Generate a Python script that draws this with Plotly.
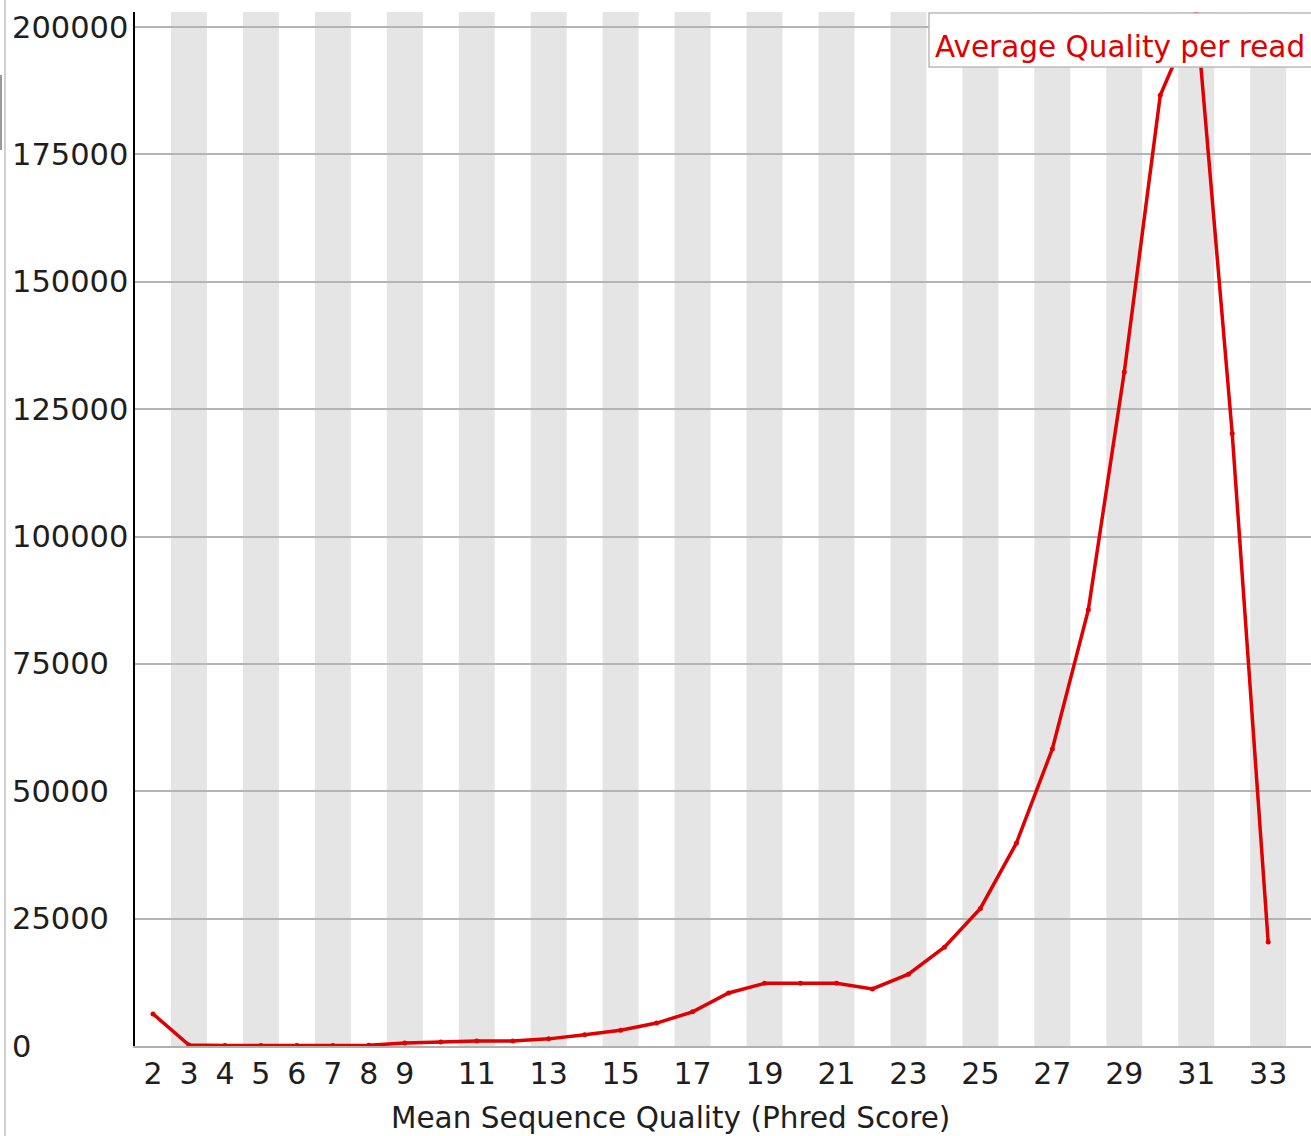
import plotly.graph_objects as go

# Mean per-read quality distribution
quality = list(range(2, 34))
read_counts = [6300, 200, 100, 100, 100, 100, 150, 600, 800, 1000, 1000, 1400,
               2200, 3100, 4500, 6700, 10400, 12300, 12300, 12300, 11200, 14100,
               19400, 27000, 39800, 58300, 85600, 132300, 186600, 203000,
               120200, 20400]

x_ticks = [2, 3, 4, 5, 6, 7, 8, 9, 11, 13, 15, 17, 19, 21, 23, 25, 27, 29, 31, 33]
y_ticks = [0, 25000, 50000, 75000, 100000, 125000, 150000, 175000, 200000]
shaded_columns = list(range(3, 34, 2))

series_name = "Average Quality per read"
x_title = "Mean Sequence Quality (Phred Score)"

W, H = 1311, 1136
ML, MR, MT, MB = 135, 0, 12, 90
RED = "#e00000"
INK = "#1e1e1e"
FONT = "DejaVu Sans"
FS = 29.5

fig = go.Figure()
fig.add_trace(go.Scatter(
    x=quality, y=read_counts, mode="lines+markers",
    line=dict(color=RED, width=3.5), marker=dict(color=RED, size=5),
    name=series_name, showlegend=False, cliponaxis=True,
))

shapes = []
# alternating column shading
for q in shaded_columns:
    shapes.append(dict(type="rect", xref="x", yref="y domain",
                       x0=q - 0.5, x1=q + 0.5, y0=0, y1=1,
                       fillcolor="#e5e5e5", line=dict(width=0), layer="below"))

pw = W - ML - MR
ph = H - MT - MB


def px(xp):
    return (xp - ML) / pw


def py(yp):
    return (H - MB - yp) / ph


# legend box
shapes.append(dict(type="rect", xref="paper", yref="paper",
                   x0=px(929), x1=px(1320), y0=py(67), y1=py(13),
                   fillcolor="white", line=dict(color="#bbbbbb", width=1.5),
                   layer="above"))
# page frame line at the far left
shapes.append(dict(type="line", xref="paper", yref="paper",
                   x0=px(5), x1=px(5), y0=py(H), y1=py(0),
                   line=dict(color="#d0d0d0", width=2), layer="above"))
shapes.append(dict(type="line", xref="paper", yref="paper",
                   x0=px(1), x1=px(1), y0=py(150), y1=py(75),
                   line=dict(color="#9a9a9a", width=2), layer="above"))

annotations = [dict(text=series_name, xref="paper", yref="paper",
                    x=px(933), y=py(47), xanchor="left", yanchor="middle",
                    showarrow=False, font=dict(family=FONT, size=FS, color=RED))]
# left-aligned value labels for the y axis
for v in y_ticks:
    annotations.append(dict(text=str(v), xref="paper", yref="y",
                            x=px(10), y=v, xanchor="left", yanchor="middle",
                            showarrow=False,
                            font=dict(family=FONT, size=30.5, color=INK)))
annotations.append(dict(text=x_title, xref="paper", yref="paper",
                        x=px(670), y=py(1118), xanchor="center",
                        yanchor="middle", showarrow=False,
                        font=dict(family=FONT, size=FS, color=INK)))

fig.update_layout(
    width=W, height=H,
    margin=dict(l=ML, r=MR, t=MT, b=MB, pad=0),
    paper_bgcolor="white", plot_bgcolor="white",
    font=dict(family=FONT, size=FS, color=INK),
    shapes=shapes,
    annotations=annotations,
    xaxis=dict(range=[1.5, 34.19], tickvals=x_ticks,
               ticktext=[str(v) for v in x_ticks], showgrid=False,
               zeroline=False, showline=True, linecolor="#b0b0b0", linewidth=2,
               ticks="", ticklabelstandoff=0,
               tickfont=dict(family=FONT, size=30, color=INK)),
    yaxis=dict(range=[0, 202944], tickvals=y_ticks, showticklabels=False,
               showgrid=True, gridcolor="#b4b4b4", gridwidth=2, zeroline=False,
               showline=True, linecolor="black", linewidth=2, ticks=""),
)

fig.write_html("out.html")
